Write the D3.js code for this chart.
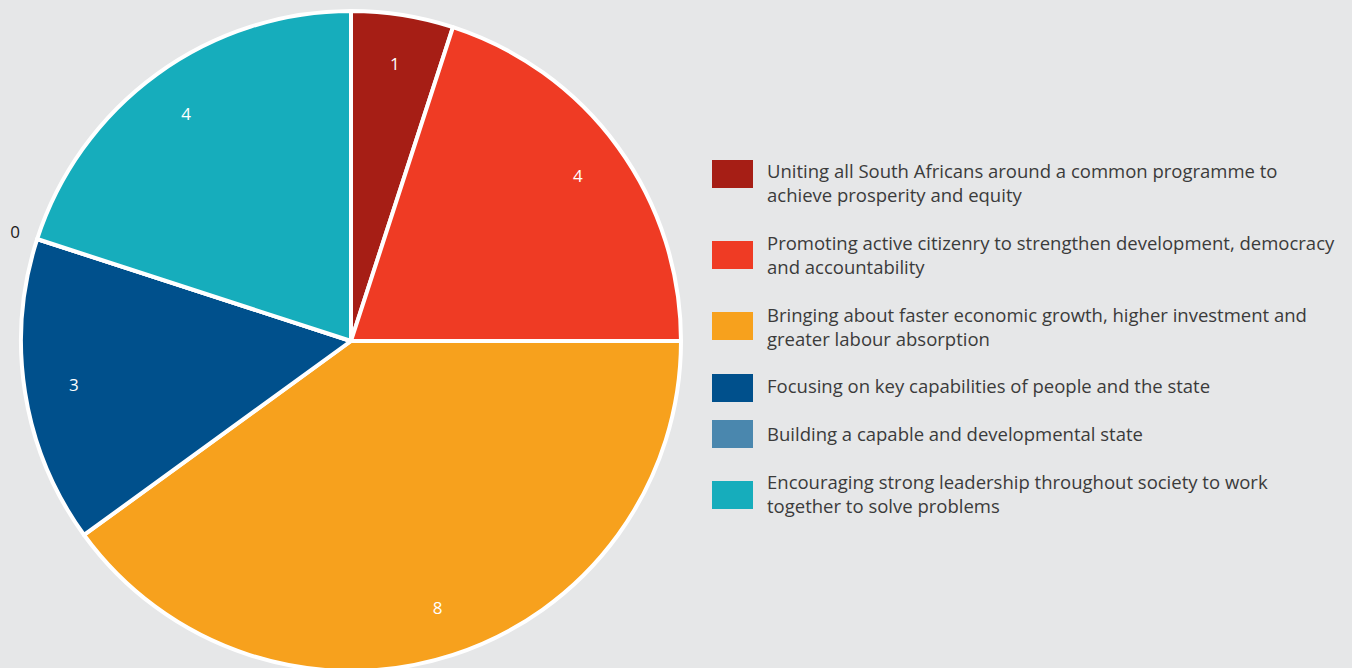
<!DOCTYPE html>
<html><head><meta charset="utf-8">
<script src="https://cdn.jsdelivr.net/npm/d3@7"></script>
<style>html,body{margin:0;padding:0;background:#e6e7e8;}svg{display:block;}</style>
</head><body><svg id="c" width="1352" height="668"></svg>
<script>
const categories = [
  "Uniting all South Africans around a common programme to achieve prosperity and equity",
  "Promoting active citizenry to strengthen development, democracy and accountability",
  "Bringing about faster economic growth, higher investment and greater labour absorption",
  "Focusing on key capabilities of people and the state",
  "Building a capable and developmental state",
  "Encouraging strong leadership throughout society to work together to solve problems"
];
const legendLines = [
  ["Uniting all South Africans around a common programme to", "achieve prosperity and equity"],
  ["Promoting active citizenry to strengthen development, democracy", "and accountability"],
  ["Bringing about faster economic growth, higher investment and", "greater labour absorption"],
  ["Focusing on key capabilities of people and the state"],
  ["Building a capable and developmental state"],
  ["Encouraging strong leadership throughout society to work", "together to solve problems"]
];
const values = [1, 4, 8, 3, 0, 4];
const colors = ["#a61e15", "#ef3b24", "#f7a11d", "#00508c", "#4a87ae", "#16adbc"];

const svg = d3.select("#c");
const cx = 351, cy = 341, R = 330;
const g = svg.append("g").attr("transform", `translate(${cx},${cy})`);
const data = values.map((v, i) => ({v, i}));
const pie = d3.pie().value(d => d.v).sort(null);
const arcs = pie(data);
const arc = d3.arc().innerRadius(0).outerRadius(R);
const labelArc = d3.arc().innerRadius(R * 0.85).outerRadius(R * 0.85);
const zeroArc = d3.arc().innerRadius(R * 1.07).outerRadius(R * 1.07);

g.selectAll("path").data(arcs).enter().append("path")
  .attr("d", arc)
  .attr("fill", d => colors[d.data.i])
  .attr("stroke", "#ffffff").attr("stroke-width", 4).attr("stroke-linejoin", "round");

g.selectAll("text.lbl").data(arcs).enter().append("text")
  .attr("class", "lbl")
  .attr("transform", d => `translate(${(d.data.v === 0 ? zeroArc : labelArc).centroid(d)})`)
  .attr("text-anchor", "middle").attr("dy", "0.35em")
  .attr("font-family", "'Open Sans', sans-serif").attr("font-size", 17)
  .attr("fill", d => d.data.v === 0 ? "#1a1a1a" : "#ffffff")
  .text(d => d.data.v);

const squareTop = [160, 241, 312, 374, 420, 481];
const textY = [172, 244, 316, 387, 435, 483];
const lg = svg.append("g");
legendLines.forEach((lines, i) => {
  lg.append("rect").attr("x", 712).attr("y", squareTop[i]).attr("width", 41).attr("height", 28).attr("fill", colors[i]);
  const t = lg.append("text").attr("x", 767).attr("y", textY[i])
    .attr("font-family", "'Open Sans', sans-serif").attr("font-size", 18.5).attr("fill", "#3b3b3b");
  lines.forEach((ln, j) => {
    t.append("tspan").attr("x", 767).attr("dy", j === 0 ? "0.35em" : 24).text(ln);
  });
});
</script></body></html>
